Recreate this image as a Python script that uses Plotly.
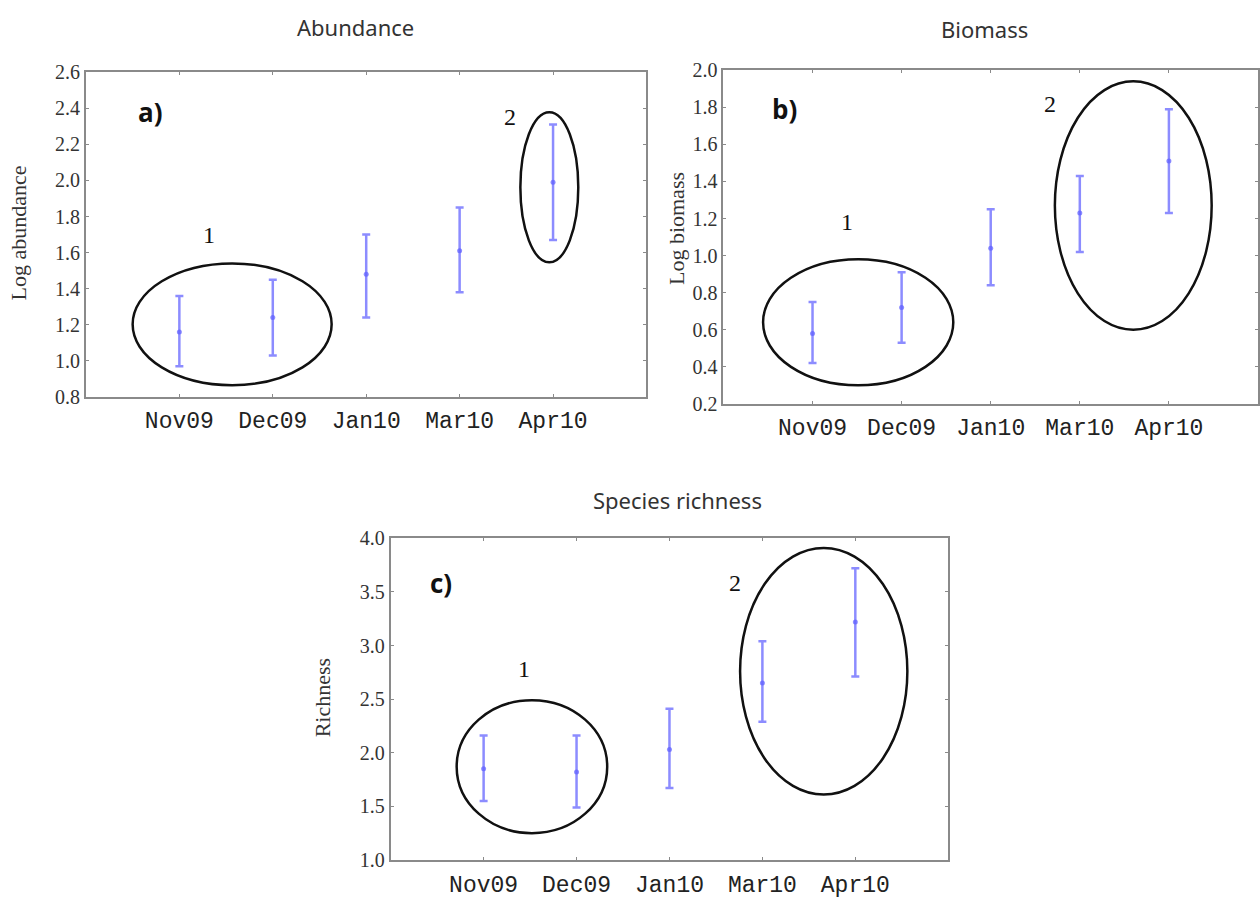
import plotly.graph_objects as go

months = ["Nov09", "Dec09", "Jan10", "Mar10", "Apr10"]

abund_mean = [1.16, 1.24, 1.48, 1.61, 1.99]
abund_upper = [1.36, 1.45, 1.70, 1.85, 2.31]
abund_lower = [0.97, 1.03, 1.24, 1.38, 1.67]

bio_mean = [0.58, 0.72, 1.04, 1.23, 1.51]
bio_upper = [0.75, 0.91, 1.25, 1.43, 1.79]
bio_lower = [0.42, 0.53, 0.84, 1.02, 1.23]

rich_mean = [1.85, 1.82, 2.03, 2.65, 3.22]
rich_upper = [2.16, 2.16, 2.41, 3.04, 3.72]
rich_lower = [1.55, 1.49, 1.67, 2.29, 2.71]

abund_ticks = [0.8, 1.0, 1.2, 1.4, 1.6, 1.8, 2.0, 2.2, 2.4, 2.6]
bio_ticks = [0.2, 0.4, 0.6, 0.8, 1.0, 1.2, 1.4, 1.6, 1.8, 2.0]
rich_ticks = [1.0, 1.5, 2.0, 2.5, 3.0, 3.5, 4.0]

W, H = 1260, 899
BLUE = "rgba(95,95,255,0.72)"
GRAY = "#8a8a8a"

# vertical calibration of the rendered page
def cy(t):
    return (t - 8.5) / 0.9785

# panel boxes in pixels: (left, right, top, bottom)
boxes = {
    "a": (86, 647, 70, 396),
    "b": (724, 1259, 68, 403),
    "c": (391, 949, 538, 861),
}

def xd(l, r):
    return [l / W, r / W]

def yd(t, b):
    return [1 - cy(b) / H, 1 - cy(t) / H]

fig = go.Figure()

panels = [
    ("a", "x", "y", abund_mean, abund_upper, abund_lower, abund_ticks, [0.8, 2.6]),
    ("b", "x2", "y2", bio_mean, bio_upper, bio_lower, bio_ticks, [0.2, 2.0]),
    ("c", "x3", "y3", rich_mean, rich_upper, rich_lower, rich_ticks, [1.0, 4.0]),
]

for key, xa, ya, mean, up, lo, ticks, yr in panels:
    fig.add_trace(go.Scatter(
        x=months, y=mean, mode="markers", xaxis=xa, yaxis=ya,
        marker=dict(color=BLUE, size=5),
        error_y=dict(type="data", symmetric=False,
                     array=[u - m for u, m in zip(up, mean)],
                     arrayminus=[m - l for m, l in zip(mean, lo)],
                     color=BLUE, thickness=2.5, width=4),
        showlegend=False, hoverinfo="skip"))

axis_common = dict(showline=True, linecolor=GRAY, linewidth=2, mirror="allticks",
                   ticks="inside", ticklen=3, tickcolor=GRAY, tickwidth=1,
                   showgrid=False, zeroline=False)

layout_axes = {}
for i, (key, xa, ya, mean, up, lo, ticks, yr) in enumerate(panels):
    l, r, t, b = boxes[key]
    sx = "xaxis" if i == 0 else f"xaxis{i+1}"
    sy = "yaxis" if i == 0 else f"yaxis{i+1}"
    anchor_x = "y" if i == 0 else f"y{i+1}"
    anchor_y = "x" if i == 0 else f"x{i+1}"
    layout_axes[sx] = dict(axis_common, domain=xd(l, r), anchor=anchor_x,
                           type="category", categoryorder="array", categoryarray=months,
                           range=[-1, 5], ticklabelstandoff=2,
                           tickfont=dict(family="Liberation Mono", size=23, color="#222"))
    layout_axes[sy] = dict(axis_common, domain=yd(t, b), anchor=anchor_y,
                           range=yr, tickvals=ticks, tickformat=".1f",
                           tickfont=dict(family="Liberation Serif", size=20, color="#333"))

fig.update_layout(**layout_axes)

# ellipses (data coordinates): x0, x1, y0, y1
ellipses = [
    ("x", "y", -0.50, 1.63, 0.865, 1.54),
    ("x", "y", 3.65, 4.27, 1.546, 2.378),
    ("x2", "y2", -0.555, 1.58, 0.30, 0.98),
    ("x2", "y2", 2.72, 4.48, 0.60, 1.94),
    ("x3", "y3", -0.29, 1.33, 1.25, 2.49),
    ("x3", "y3", 2.76, 4.56, 1.61, 3.91),
]
for xr, yr_, x0, x1, y0, y1 in ellipses:
    fig.add_shape(type="circle", xref=xr, yref=yr_, x0=x0, x1=x1, y0=y0, y1=y1,
                  line=dict(color="#111", width=2.5))

annos = []
for xr, yr_, x, y, txt in [("x", "y", -0.31, 2.38, "a)"),
                           ("x2", "y2", -0.31, 1.79, "b)"),
                           ("x3", "y3", -0.46, 3.58, "c)")]:
    annos.append(dict(xref=xr, yref=yr_, x=x, y=y, text=txt, showarrow=False,
                      font=dict(family="Open Sans", size=26, color="#111", weight="bold")))
for xr, yr_, x, y, txt in [("x", "y", 0.32, 1.70, "1"), ("x", "y", 3.54, 2.35, "2"),
                           ("x2", "y2", 0.385, 1.18, "1"), ("x2", "y2", 2.66, 1.82, "2"),
                           ("x3", "y3", 0.44, 2.78, "1"), ("x3", "y3", 2.70, 3.58, "2")]:
    annos.append(dict(xref=xr, yref=yr_, x=x, y=y, text=txt, showarrow=False,
                      font=dict(family="Liberation Serif", size=24, color="#111")))
for px, py, txt in [(356, 25, "Abundance"), (985, 27, "Biomass"), (678, 500, "Species richness")]:
    annos.append(dict(xref="paper", yref="paper", x=px / W, y=1 - cy(py) / H, text=txt,
                      showarrow=False, xanchor="center", yanchor="middle",
                      font=dict(family="Noto Sans", size=22, color="#333")))
for px, py, txt in [(19, 231, "Log abundance"), (677, 227, "Log biomass"), (323, 698, "Richness")]:
    annos.append(dict(xref="paper", yref="paper", x=px / W, y=1 - cy(py) / H, text=txt,
                      showarrow=False, xanchor="center", yanchor="middle", textangle=-90,
                      font=dict(family="Liberation Serif", size=22, color="#333")))

fig.update_layout(annotations=annos, width=W, height=H,
                  margin=dict(l=0, r=0, t=0, b=0),
                  paper_bgcolor="white", plot_bgcolor="white")

fig.write_html(
    "out.html",
    config={"displayModeBar": False},
    post_script=(
        "document.documentElement.style.margin='0';"
        "document.documentElement.style.padding='0';"
        "document.documentElement.style.overflow='hidden';"
        "document.body.style.margin='0';"
        "document.body.style.padding='0';"
        "document.body.style.overflow='hidden';"
        "var d=document.getElementById('{plot_id}');"
        "d.style.display='block';"
        "if(d.parentElement){d.parentElement.style.display='block';"
        "d.parentElement.style.lineHeight='0';}"
        "window.scrollTo(0,0);"
    ),
)
